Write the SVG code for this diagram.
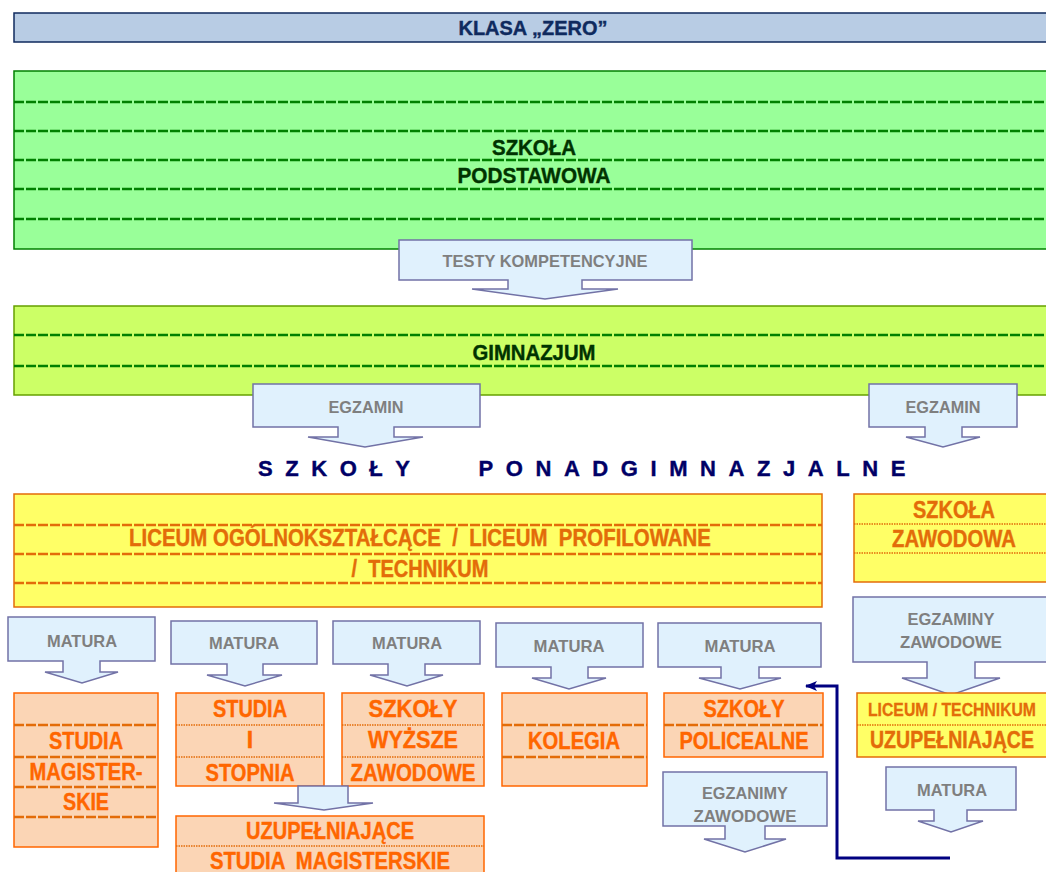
<svg xmlns="http://www.w3.org/2000/svg" width="1046" height="872" viewBox="0 0 1046 872">
<defs>
<style>
.t{font-family:"Liberation Sans Narrow","Liberation Sans",Arial,sans-serif;font-weight:bold;text-anchor:middle;white-space:pre}
.g{fill:#003300;stroke:#003300;stroke-width:0.4;font-size:22px}
.nv{fill:#0f2a5e;stroke:#0f2a5e;stroke-width:0.4;font-size:21px}
.o1{fill:#e36c09;stroke:#e36c09;stroke-width:0.4;font-size:23px}
.o2{fill:#ff6600;stroke:#ff6600;stroke-width:0.4;font-size:23px}
.c{font-family:"Liberation Sans",Arial,sans-serif;font-weight:bold;text-anchor:middle;fill:#7f7f7f;font-size:16.5px}
.call{fill:#e0f1fd;stroke:#7272a6;stroke-width:1.5}
.dg{stroke:#008000;stroke-width:2.5;stroke-dasharray:10 2;fill:none}
.do{stroke:#e36c09;stroke-width:2.5;stroke-dasharray:10 2;fill:none}
.dt{stroke:#e36c09;stroke-width:1.5;stroke-dasharray:1.5 1;fill:none}
.yel{fill:#ffff66;stroke:#e36c09;stroke-width:1.5}
.pch{fill:#fbd5b5;stroke:#ff6600;stroke-width:1.5}
</style>
<marker id="ah" markerWidth="12" markerHeight="10" refX="11" refY="5" orient="auto" markerUnits="userSpaceOnUse">
<path d="M0,0 L12,5 L0,10 L3,5 Z" fill="#000080"/>
</marker>
</defs>

<g id="klasa-zero">
<rect x="14" y="13" width="1040" height="29" fill="#b8cce4" stroke="#0f2a5e" stroke-width="1.5"/>
<text class="t nv" x="533" y="35" textLength="149" lengthAdjust="spacingAndGlyphs">KLASA „ZERO”</text>
</g>

<g id="szkola-podstawowa">
<rect x="14" y="71" width="1040" height="178" fill="#99ff99" stroke="#008000" stroke-width="1.5"/>
<path class="dg" d="M14,102 H1046 M14,131 H1046 M14,160 H1046 M14,189 H1046 M14,219 H1046"/>
<text class="t g" x="534" y="155" textLength="84" lengthAdjust="spacingAndGlyphs">SZKOŁA</text>
<text class="t g" x="534" y="183" textLength="153" lengthAdjust="spacingAndGlyphs">PODSTAWOWA</text>
</g>

<g id="testy">
<path class="call" d="M399,240 H692 V280 H582 V289 H618 L545,299 L472,289 H508 V280 H399 Z"/>
<text class="c" x="545" y="267" textLength="205" lengthAdjust="spacingAndGlyphs">TESTY KOMPETENCYJNE</text>
</g>

<g id="gimnazjum">
<rect x="14" y="306" width="1040" height="89" fill="#ccff66" stroke="#66a000" stroke-width="1.5"/>
<path class="dg" d="M14,335 H1046 M14,366 H1046"/>
<text class="t g" x="534" y="360" textLength="123" lengthAdjust="spacingAndGlyphs">GIMNAZJUM</text>
</g>

<g id="egzamin-1">
<path class="call" d="M253,384 H480 V427 H394 V437 H423 L365,447 L308,437 H338 V427 H253 Z"/>
<text class="c" x="366" y="413" textLength="75" lengthAdjust="spacingAndGlyphs">EGZAMIN</text>
</g>

<g id="egzamin-2">
<path class="call" d="M869,384 H1017 V427 H962 V437 H980 L943,447 L906,437 H925 V427 H869 Z"/>
<text class="c" x="943" y="413" textLength="75" lengthAdjust="spacingAndGlyphs">EGZAMIN</text>
</g>

<g id="ponadgimnazjalne">
<text class="t" x="334" y="476" fill="#000066" stroke="#000066" stroke-width="0.4" font-size="22" textLength="152" lengthAdjust="spacing">SZKOŁY</text>
<text class="t" x="692" y="476" fill="#000066" stroke="#000066" stroke-width="0.4" font-size="22" textLength="427" lengthAdjust="spacing">PONADGIMNAZJALNE</text>
</g>

<g id="liceum">
<rect class="yel" x="14" y="494" width="808" height="113"/>
<path class="do" d="M14,525 H822 M14,554 H822 M14,583 H822"/>
<text class="t o1" x="420" y="546" textLength="582" lengthAdjust="spacingAndGlyphs">LICEUM OGÓLNOKSZTAŁCĄCE  /  LICEUM  PROFILOWANE</text>
<text class="t o1" x="420" y="577" textLength="137" lengthAdjust="spacingAndGlyphs">/  TECHNIKUM</text>
</g>

<g id="szkola-zawodowa">
<rect class="yel" x="854" y="494" width="200" height="88"/>
<path class="dt" d="M854,524 H1046 M854,553 H1046"/>
<text class="t o1" x="954" y="518" textLength="82" lengthAdjust="spacingAndGlyphs">SZKOŁA</text>
<text class="t o1" x="954" y="547" textLength="124" lengthAdjust="spacingAndGlyphs">ZAWODOWA</text>
</g>

<g id="matura-1">
<path class="call" d="M8,617 H155 V661 H100 V672 H118 L82,683 L45,672 H63 V661 H8 Z"/>
<text class="c" x="82" y="647" textLength="70" lengthAdjust="spacingAndGlyphs">MATURA</text>
</g>
<g id="matura-2">
<path class="call" d="M171,621 H317 V664 H263 V675 H282 L245,686 L207,675 H227 V664 H171 Z"/>
<text class="c" x="244" y="649" textLength="70" lengthAdjust="spacingAndGlyphs">MATURA</text>
</g>
<g id="matura-3">
<path class="call" d="M333,621 H480 V664 H425 V675 H443 L407,686 L370,675 H388 V664 H333 Z"/>
<text class="c" x="407" y="649" textLength="70" lengthAdjust="spacingAndGlyphs">MATURA</text>
</g>
<g id="matura-4">
<path class="call" d="M496,623 H643 V667 H588 V678 H606 L569,689 L532,678 H551 V667 H496 Z"/>
<text class="c" x="569" y="652" textLength="71" lengthAdjust="spacingAndGlyphs">MATURA</text>
</g>
<g id="matura-5">
<path class="call" d="M658,623 H821 V667 H759 V678 H781 L740,689 L699,678 H721 V667 H658 Z"/>
<text class="c" x="740" y="652" textLength="71" lengthAdjust="spacingAndGlyphs">MATURA</text>
</g>

<g id="egzaminy-zawodowe">
<path class="call" d="M853,597 H1050 V662 H975 V678 H1000 L951,695 L902,678 H927 V662 H853 Z"/>
<text class="c" x="951" y="625" textLength="87" lengthAdjust="spacingAndGlyphs">EGZAMINY</text>
<text class="c" x="951" y="648" textLength="102" lengthAdjust="spacingAndGlyphs">ZAWODOWE</text>
</g>

<g id="studia-magisterskie">
<rect class="pch" x="14" y="693" width="144" height="154"/>
<path class="do" d="M14,725 H158 M14,757 H158 M14,787 H158 M14,817 H158"/>
<text class="t o2" x="86" y="749" textLength="74" lengthAdjust="spacingAndGlyphs">STUDIA</text>
<text class="t o2" x="86" y="780" textLength="113" lengthAdjust="spacingAndGlyphs">MAGISTER-</text>
<text class="t o2" x="86" y="810" textLength="46" lengthAdjust="spacingAndGlyphs">SKIE</text>
</g>

<g id="studia-i-stopnia">
<rect class="pch" x="176" y="693" width="148" height="93"/>
<path class="dt" d="M176,725 H324 M176,757 H324"/>
<text class="t o2" x="250" y="717" textLength="74" lengthAdjust="spacingAndGlyphs">STUDIA</text>
<text class="t o2" x="250" y="748">I</text>
<text class="t o2" x="250" y="781" textLength="89" lengthAdjust="spacingAndGlyphs">STOPNIA</text>
</g>

<g id="szkoly-wyzsze">
<rect class="pch" x="342" y="693" width="142" height="93"/>
<path class="dt" d="M342,725 H484 M342,757 H484"/>
<text class="t o2" x="413" y="717" textLength="89" lengthAdjust="spacingAndGlyphs">SZKOŁY</text>
<text class="t o2" x="413" y="748" textLength="90" lengthAdjust="spacingAndGlyphs">WYŻSZE</text>
<text class="t o2" x="413" y="781" textLength="125" lengthAdjust="spacingAndGlyphs">ZAWODOWE</text>
</g>

<g id="arrow-uzupelniajace">
<path class="call" d="M298,786 H348 V803 H373 L324,810 L274,803 H298 Z"/>
</g>

<g id="uzupelniajace-studia">
<rect class="pch" x="176" y="816" width="308" height="70"/>
<path class="dt" d="M176,846 H484"/>
<text class="t o2" x="330" y="839" textLength="168" lengthAdjust="spacingAndGlyphs">UZUPEŁNIAJĄCE</text>
<text class="t o2" x="330" y="869" textLength="240" lengthAdjust="spacingAndGlyphs">STUDIA  MAGISTERSKIE</text>
</g>

<g id="kolegia">
<rect class="pch" x="502" y="693" width="145" height="93"/>
<path class="do" d="M502,725 H647 M502,757 H647"/>
<text class="t o2" x="574" y="749" textLength="92" lengthAdjust="spacingAndGlyphs">KOLEGIA</text>
</g>

<g id="szkoly-policealne">
<rect class="pch" x="664" y="693" width="159" height="64"/>
<path class="do" d="M664,725 H823"/>
<text class="t o2" x="744" y="717" textLength="81" lengthAdjust="spacingAndGlyphs">SZKOŁY</text>
<text class="t o2" x="744" y="749" textLength="129" lengthAdjust="spacingAndGlyphs">POLICEALNE</text>
</g>

<g id="egzanimy-zawodowe">
<path class="call" d="M663,772 H827 V826 H765 V839 H786 L745,852 L704,839 H725 V826 H663 Z"/>
<text class="c" x="745" y="799" textLength="86" lengthAdjust="spacingAndGlyphs">EGZANIMY</text>
<text class="c" x="745" y="822" textLength="103" lengthAdjust="spacingAndGlyphs">ZAWODOWE</text>
</g>

<g id="liceum-technikum-uzupelniajace">
<rect class="yel" x="857" y="693" width="200" height="64"/>
<path class="dt" d="M857,725 H1046"/>
<text class="t" x="952" y="716" fill="#e36c09" stroke="#e36c09" stroke-width="0.3" font-size="18.5" textLength="168" lengthAdjust="spacingAndGlyphs">LICEUM / TECHNIKUM</text>
<text class="t o1" x="952" y="748" textLength="164" lengthAdjust="spacingAndGlyphs">UZUPEŁNIAJĄCE</text>
</g>

<g id="matura-6">
<path class="call" d="M886,767 H1016 V810 H967 V821 H983 L951,832 L918,821 H934 V810 H886 Z"/>
<text class="c" x="952" y="796" textLength="70" lengthAdjust="spacingAndGlyphs">MATURA</text>
</g>

<g id="connectors">
<path d="M950,858 H837 V686 H806" fill="none" stroke="#000080" stroke-width="3" marker-end="url(#ah)"/>
</g>
</svg>
